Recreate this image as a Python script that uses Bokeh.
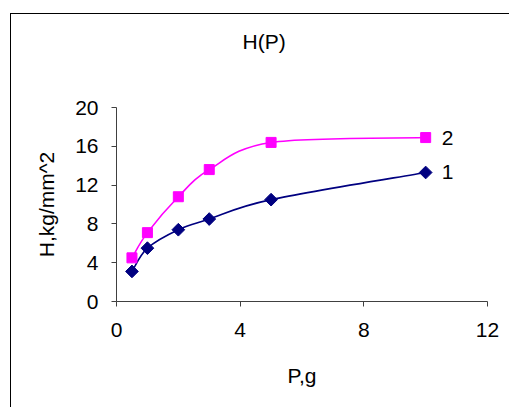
import numpy as np
from bokeh.plotting import figure
from bokeh.models import Range1d, FixedTicker
from bokeh.core.properties import value
from bokeh.embed import file_html
from bokeh.resources import INLINE

# ---- data ----
load_g = [0.5, 1, 2, 3, 5, 10]
hard_1 = [3.1, 5.5, 7.4, 8.5, 10.5, 13.3]
hard_2 = [4.5, 7.1, 10.8, 13.6, 16.4, 16.9]
series_names = ["1", "2"]
x_ticks = [0, 4, 8, 12]
y_ticks = [0, 4, 8, 12, 16, 20]
title_text = "H(P)"
x_label = "P,g"
y_label = "H,kg/mm^2"

FONT = "Liberation Sans"
FS = "21px"

p = figure(width=499, height=394, output_backend="svg", toolbar_location=None,
           x_range=Range1d(0, 12), y_range=Range1d(0, 20),
           min_border_left=105, min_border_right=23, min_border_top=93, min_border_bottom=107,
           margin=(14, 0, 0, 11),
           styles={"box-shadow": "-1px -1px 0px 0px #000000"})
p.outline_line_color = None
p.grid.grid_line_color = None
p.background_fill_color = "white"
p.border_fill_color = "white"

p.title.text = title_text
p.title.align = "left"
p.title.offset = 126
p.title.vertical_align = "bottom"
p.title.standoff = 0
p.title.padding = dict(top=0, right=0, bottom=55, left=0)
p.title.text_font = FONT
p.title.text_font_size = FS
p.title.text_font_style = "normal"
p.title.text_color = "black"

for ax in (p.xaxis[0], p.yaxis[0]):
    ax.axis_line_color = "#404040"
    ax.major_tick_line_color = "#404040"
    ax.major_tick_out = 5
    ax.major_tick_in = 0
    ax.minor_tick_out = 0
    ax.minor_tick_in = 0
    ax.major_label_text_font = FONT
    ax.major_label_text_font_size = FS
    ax.major_label_text_color = "black"
    ax.axis_label_text_font = FONT
    ax.axis_label_text_font_size = FS
    ax.axis_label_text_font_style = "normal"
    ax.axis_label_text_color = "black"
p.xaxis.ticker = FixedTicker(ticks=x_ticks)
p.yaxis.ticker = FixedTicker(ticks=y_ticks)
p.xaxis.major_label_standoff = 16
p.yaxis.major_label_standoff = 13
p.xaxis.axis_label = x_label
p.xaxis.axis_label_standoff = 24
p.yaxis.axis_label = y_label
p.yaxis.axis_label_standoff = 14


def smooth(xs, ys):
    n = len(xs)
    X = np.array(xs, float)
    Y = np.array(ys, float)
    x0, y0, x1, y1, cx0, cy0, cx1, cy1 = [], [], [], [], [], [], [], []
    for i in range(n - 1):
        a = max(i - 1, 0)
        d = min(i + 2, n - 1)
        x0.append(X[i]); y0.append(Y[i]); x1.append(X[i + 1]); y1.append(Y[i + 1])
        cx0.append(X[i] + (X[i + 1] - X[a]) / 6); cy0.append(Y[i] + (Y[i + 1] - Y[a]) / 6)
        cx1.append(X[i + 1] - (X[d] - X[i]) / 6); cy1.append(Y[i + 1] - (Y[d] - Y[i]) / 6)
    return dict(x0=x0, y0=y0, x1=x1, y1=y1, cx0=cx0, cy0=cy0, cx1=cx1, cy1=cy1)

for ys, col in ((hard_1, "#000080"), (hard_2, "#FF00FF")):
    p.bezier(line_color=col, line_width=1.6, **smooth(load_g, ys))

p.scatter(load_g, hard_1, marker="square", size=9, angle=np.pi / 4,
          fill_color="#000080", line_color="#000080")
p.scatter(load_g, hard_2, marker="square", size=10,
          fill_color="#FF00FF", line_color="#FF00FF")

p.text(x=[load_g[-1], load_g[-1]], y=[hard_1[-1], hard_2[-1]], text=series_names,
       x_offset=16, text_baseline="middle", text_align="left",
       text_font=value(FONT), text_font_size=FS, text_color="black")

open("out.html", "w").write(file_html(p, INLINE))
